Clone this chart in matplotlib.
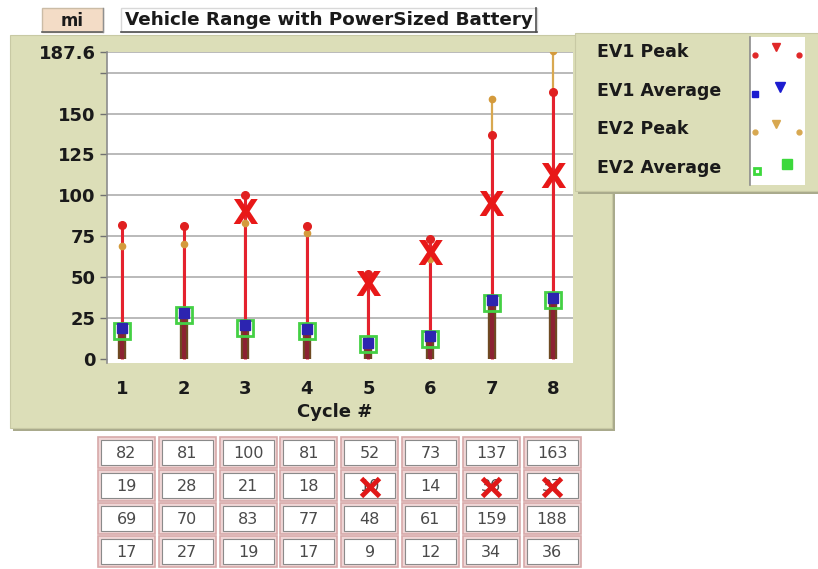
import numpy as np
import matplotlib
matplotlib.use("Agg")
import matplotlib.pyplot as plt
from matplotlib.patches import Rectangle

# ---------------- data ----------------
cycles = [1, 2, 3, 4, 5, 6, 7, 8]
ev1_peak = [82, 81, 100, 81, 52, 73, 137, 163]
ev1_avg = [19, 28, 21, 18, 10, 14, 36, 37]
ev2_peak = [69, 70, 83, 77, 48, 61, 159, 188]
ev2_avg = [17, 27, 19, 17, 9, 12, 34, 36]
series_names = ["EV1 Peak", "EV1 Average", "EV2 Peak", "EV2 Average"]
ytick_vals = [0, 25, 50, 75, 100, 125, 150, 175, 187.6]
ytick_labels = ["0", "25", "50", "75", "100", "125", "150", "", "187.6"]
xmark_cycles = [3, 5, 6, 7, 8]
xmark_values = [88, 44, 63, 93, 110]
table_xmark_cols = [5, 7, 8]   # crossed cells in row 2
title = "Vehicle Range with PowerSized Battery"
unit = "mi"
xlabel = "Cycle #"

W, H = 818, 569
fig = plt.figure(figsize=(W / 100, H / 100), dpi=100)
fig.patch.set_facecolor("white")

# background / decoration layer in pixel coordinates
bg = fig.add_axes([0, 0, 1, 1])
bg.set_xlim(0, W)
bg.set_ylim(H, 0)
bg.axis("off")

KHAKI = "#dcdeb8"
TXT = "#1a1a1a"
# main panel with shadow
bg.add_patch(Rectangle((13, 38), 602, 393, fc="#a9aa8c", ec="none", zorder=0))
bg.add_patch(Rectangle((10, 35), 602, 393, fc=KHAKI, ec="#c8c9a4", lw=0.8, zorder=1))

# legend panel
bg.add_patch(Rectangle((578, 36), 245, 158, fc="#a9aa8c", ec="none", zorder=2))
bg.add_patch(Rectangle((575, 33), 245, 158, fc=KHAKI, ec="#c8c9a4", lw=0.8, zorder=3))
bg.add_patch(Rectangle((750, 37), 55, 148, fc="white", ec="none", zorder=4))
bg.plot([750, 750], [37, 185], color="#8c8c8c", lw=1.2, zorder=5)
leg_y = [52, 91, 129, 168]
leg_cols = ["#e02828", "#1c1cd0", "#d8a850", "#3cd83c"]
for name, yy, c in zip(series_names, leg_y, leg_cols):
    bg.text(597, yy, name, fontsize=12.5, fontweight="bold", color=TXT,
            ha="left", va="center", zorder=6)
# legend glyphs
for i, (yy, c) in enumerate(zip(leg_y, leg_cols)):
    if i in (0, 2):
        bg.plot([755], [yy + 3], marker="o", ms=3.5, color=c, zorder=6)
        bg.plot([776], [yy - 5], marker="v", ms=6, color=c, zorder=6)
        bg.plot([799], [yy + 3], marker="o", ms=3.5, color=c, zorder=6)
    elif i == 1:
        bg.plot([755], [yy + 3], marker="s", ms=5, color=c, zorder=6)
        bg.plot([780], [yy - 4], marker="v", ms=7, color=c, zorder=6)
    else:
        bg.plot([757], [yy + 3], marker="s", ms=5, mfc="none", mec=c, mew=2, zorder=6)
        bg.plot([787], [yy - 4], marker="s", ms=7, color=c, zorder=6)

# title boxes
bg.add_patch(Rectangle((42, 8), 61, 24, fc="#f3dcc6", ec="#cbbca6", lw=1, zorder=2))
bg.plot([42, 103], [32, 32], color="#606060", lw=1.2, zorder=3)
bg.plot([103, 103], [8, 32], color="#909090", lw=1.0, zorder=3)
bg.text(72, 21, unit, fontsize=12, fontweight="bold", color=TXT,
        ha="center", va="center", zorder=3)
bg.add_patch(Rectangle((121, 8), 416, 24, fc="white", ec="#d8d8d8", lw=1, zorder=2))
bg.plot([121, 537], [32, 32], color="#505050", lw=1.2, zorder=3)
bg.plot([536, 536], [8, 32], color="#505050", lw=1.2, zorder=3)
bg.text(125, 20, title, fontsize=13.2, fontweight="bold", color=TXT,
        ha="left", va="center", zorder=3)

# x axis label
bg.text(335, 412, xlabel, fontsize=13, fontweight="bold", color=TXT,
        ha="center", va="center", zorder=3)

# table
table_rows = [ev1_peak, ev1_avg, ev2_peak, ev2_avg]
x0, pitch_x, cw = 98, 60.8, 57
y0, pitch_y, ch = 437, 33, 31
for r, row in enumerate(table_rows):
    for ci, val in enumerate(row):
        cx = x0 + ci * pitch_x
        cy = y0 + r * pitch_y
        bg.add_patch(Rectangle((cx, cy), cw, ch, fc="#efd6d6", ec="#d7a9a9", lw=1.2, zorder=2))
        bg.add_patch(Rectangle((cx + 3, cy + 3), cw - 6, ch - 6, fc="white",
                               ec="#8a8a8a", lw=0.8, zorder=3))
        bg.text(cx + cw / 2, cy + ch / 2 + 1, str(val), fontsize=11.5, color="#4a4a4a",
                ha="center", va="center", zorder=4)
        if r == 1 and (ci + 1) in table_xmark_cols:
            bg.plot([cx + cw / 2], [cy + ch / 2 + 1], marker="x", ms=13, mew=3.5,
                    color="#e01818", zorder=5)

# ---------------- plot area ----------------
ax = fig.add_axes([107 / W, 1 - 363 / H, (573 - 107) / W, (363 - 52) / H])
ax.set_zorder(3)
ax.set_facecolor("white")
ax.set_xlim(0.757, 8.32)
ax.set_ylim(-2.5, 187.6)

ax.set_yticks(ytick_vals)
ax.set_yticklabels(ytick_labels)
ax.set_xticks(cycles)
ax.set_xticklabels([str(c) for c in cycles])
ax.tick_params(axis="y", length=5, width=1, color="#707070", pad=3)
ax.tick_params(axis="x", length=0, pad=12)
for lab in ax.get_yticklabels() + ax.get_xticklabels():
    lab.set_fontweight("bold")
    lab.set_fontsize(13)
    lab.set_color(TXT)

ax.yaxis.grid(True, color="#b4b4b4", lw=1.3)
ax.set_axisbelow(True)
ax.get_ygridlines()[0].set_visible(False)
for s in ["top", "right", "bottom"]:
    ax.spines[s].set_visible(False)
ax.spines["left"].set_color("#8c8c8c")
ax.spines["left"].set_linewidth(1.2)

c = np.array(cycles)
ax.vlines(c, 0, ev2_peak, color="#d8a850", lw=1.6, zorder=2)
ax.vlines(c, 0, ev1_peak, color="#e4222e", lw=2.2, zorder=3)
ax.plot(c, ev2_peak, "o", color="#d49a3c", ms=4.5, zorder=4)
ax.plot(c, ev1_peak, "o", color="#e02020", ms=5.5, zorder=5)
ax.vlines(c, 0, ev2_avg, color="#6e4a22", lw=6, zorder=6)
ax.vlines(c, 0, ev1_avg, color="#8c2232", lw=3, zorder=7)
ax.plot(c, ev2_avg, "s", ms=11, mfc="none", mec="#44d044", mew=2, zorder=8)
ax.plot(c, ev1_avg, "s", ms=7, color="#2c24b0", zorder=9)

for xc, yv in zip(xmark_cycles, xmark_values):
    ax.text(xc, yv, "X", fontsize=24, fontweight="bold", color="#e81818",
            ha="center", va="center", zorder=10)

fig.savefig("out.png", dpi=100)
